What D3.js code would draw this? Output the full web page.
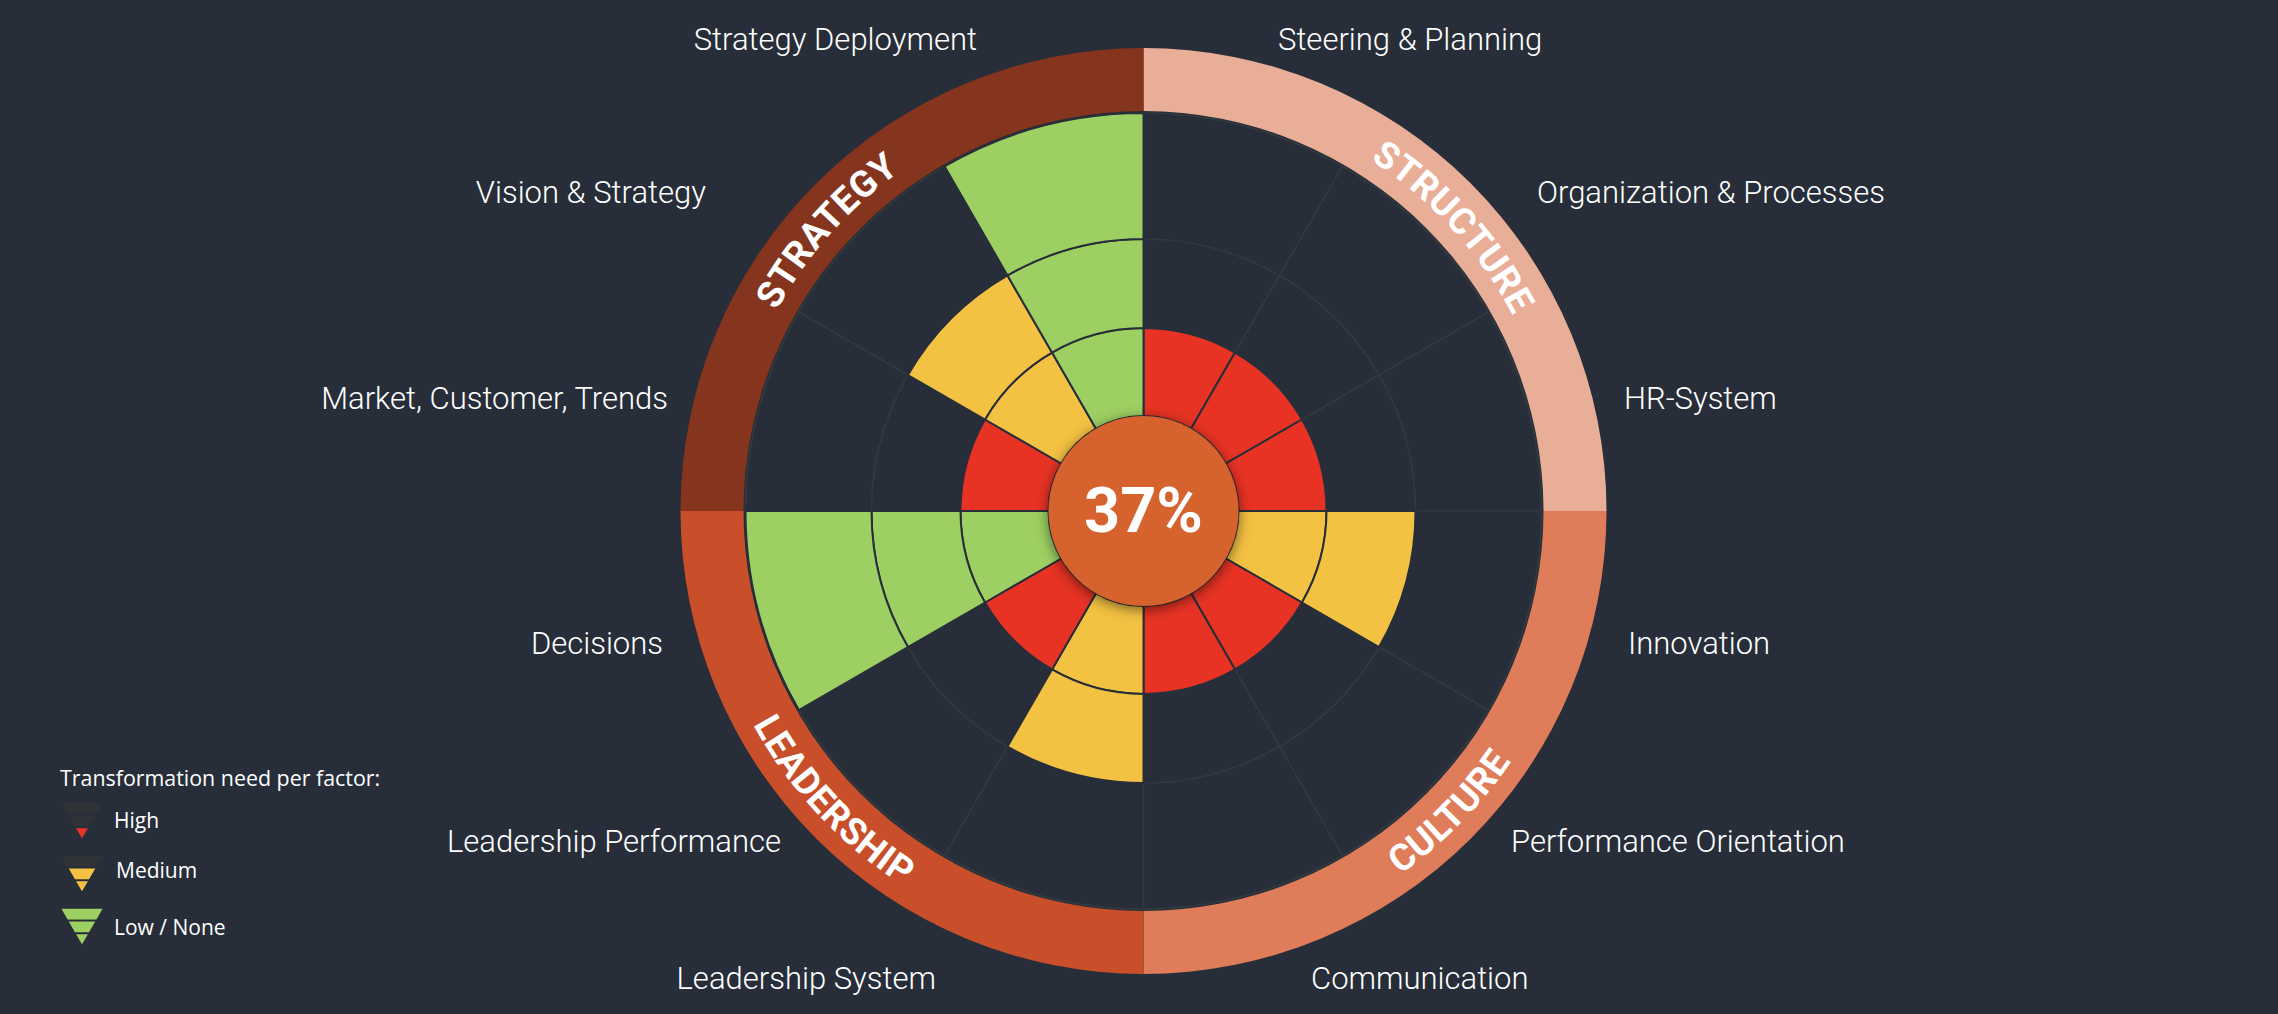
<!DOCTYPE html>
<html>
<head>
<meta charset="utf-8">
<script src="https://cdn.jsdelivr.net/npm/d3@7"></script>
<style>
  html, body { margin: 0; padding: 0; background: #272e39; }
  svg { display: block; }
</style>
</head>
<body>
<svg id="chart" width="2278" height="1014"></svg>
<script>
// ---------------- DATA ----------------
const factors = [
  "Steering & Planning", "Organization & Processes", "HR-System",
  "Innovation", "Performance Orientation", "Communication",
  "Leadership System", "Leadership Performance", "Decisions",
  "Market, Customer, Trends", "Vision & Strategy", "Strategy Deployment"
];
// number of filled bands per factor: 1 = High need, 2 = Medium, 3 = Low / None
const filledBands = [1, 1, 1, 2, 1, 1, 2, 1, 3, 1, 2, 3];
const groups = ["STRUCTURE", "CULTURE", "LEADERSHIP", "STRATEGY"];
const factorGroup = [0, 0, 0, 1, 1, 1, 2, 2, 2, 3, 3, 3];
const overallScore = 37;
const legendTitle = "Transformation need per factor:";
const legendLabels = ["High", "Medium", "Low / None"];
const legendBands = [1, 2, 3];

// ---------------- LAYOUT / STYLE ----------------
const W = 2278, H = 1014;
const cx = 1143.5, cy = 511;
const bg = "#272e39";
const levelColor = d3.scaleOrdinal().domain([1, 2, 3]).range(["#e83324", "#f4c242", "#9ecf62"]);
const groupColor = d3.scaleOrdinal().domain(groups).range(["#e9ae97", "#df7c59", "#c84f2a", "#85341d"]);
const ringInner = 400, ringOuter = 463;
const r = d3.scaleLinear().domain([0, 1, 2, 3]).range([95, 183, 272, 398]);
const angle = d3.scaleBand().domain(factors).range([0, 2 * Math.PI]);
const groupAngle = d3.scaleBand().domain(groups).range([0, 2 * Math.PI]);
// small clockwise nudges (degrees) of the ring captions
const ringLabelShift = [2.5, -0.5, 2, -3.5];

// label anchor layout (x of anchor, baseline y) per row of the chart
const rowBaselines = [50, 203, 409, 654, 852, 989];
const rightStarts = [1278, 1537, 1624, 1628, 1511, 1311];
const leftEnds = [977, 706, 668, 663, 781, 936];

const svg = d3.select("#chart");
svg.append("rect").attr("width", W).attr("height", H).attr("fill", bg);

const defs = svg.append("defs");
const f = defs.append("filter").attr("id", "shadow")
  .attr("x", "-30%").attr("y", "-30%").attr("width", "160%").attr("height", "160%");
f.append("feDropShadow").attr("dx", 0).attr("dy", 3).attr("stdDeviation", 7)
  .attr("flood-color", "#000").attr("flood-opacity", 0.55);

const g = svg.append("g").attr("transform", `translate(${cx},${cy})`);

// ---------- group ring ----------
const ringArc = d3.arc().innerRadius(ringInner).outerRadius(ringOuter);
g.append("g").selectAll("path").data(groups).join("path")
  .attr("d", d => ringArc({startAngle: groupAngle(d), endAngle: groupAngle(d) + groupAngle.bandwidth()}))
  .attr("fill", d => groupColor(d));

// ---------- grid ----------
const grid = g.append("g").attr("stroke", "#323a3e").attr("stroke-width", 1.6).attr("fill", "none");
grid.selectAll("circle").data([1, 2, 3]).join("circle").attr("r", d => r(d));
grid.selectAll("line").data(factors).join("line")
  .attr("x1", d => r(0) * Math.sin(angle(d))).attr("y1", d => -r(0) * Math.cos(angle(d)))
  .attr("x2", d => r(3) * Math.sin(angle(d))).attr("y2", d => -r(3) * Math.cos(angle(d)));

// ---------- cells ----------
const cells = [];
factors.forEach((name, i) => {
  for (let k = 1; k <= filledBands[i]; k++) cells.push({name, k, level: filledBands[i]});
});
const cellArc = d3.arc()
  .innerRadius(d => r(d.k - 1)).outerRadius(d => r(d.k))
  .startAngle(d => angle(d.name)).endAngle(d => angle(d.name) + angle.bandwidth());
g.append("g").selectAll("path").data(cells).join("path")
  .attr("d", cellArc)
  .attr("fill", d => levelColor(d.level))
  .attr("stroke", bg).attr("stroke-width", 2).attr("stroke-linejoin", "round");

// ---------- centre ----------
g.append("circle").attr("r", r(0)).attr("fill", "#d6622d").attr("filter", "url(#shadow)");
g.append("text").attr("x", 0).attr("y", 21)
  .attr("text-anchor", "middle")
  .attr("font-family", "Roboto, sans-serif").attr("font-weight", 700)
  .attr("font-size", 63).attr("fill", "#ffffff")
  .text(overallScore + "%");

// ---------- ring labels ----------
const pt = (a, rad) => [rad * Math.sin(a), -rad * Math.cos(a)];
groups.forEach((name, i) => {
  const a0 = groupAngle(name), a1 = a0 + groupAngle.bandwidth();
  const mid = (a0 + a1) / 2;
  const top = Math.cos(mid) > 0;
  const spanDeg = groupAngle.bandwidth() * 180 / Math.PI;
  let d, offset;
  if (top) {
    const rad = 418;
    const p0 = pt(a0, rad), p1 = pt(a1, rad);
    d = `M${p0[0]},${p0[1]} A${rad},${rad} 0 0 1 ${p1[0]},${p1[1]}`;
    offset = 50 + ringLabelShift[i] / spanDeg * 100;
  } else {
    const rad = 445;
    const p0 = pt(a1, rad), p1 = pt(a0, rad);
    d = `M${p0[0]},${p0[1]} A${rad},${rad} 0 0 0 ${p1[0]},${p1[1]}`;
    offset = 50 - ringLabelShift[i] / spanDeg * 100;
  }
  defs.append("path").attr("id", "gp" + i).attr("d", d);
  g.append("text")
    .attr("font-family", "Roboto, sans-serif").attr("font-weight", 700)
    .attr("font-size", 37).attr("letter-spacing", 0.5).attr("fill", "#ffffff")
    .append("textPath").attr("href", "#gp" + i)
    .attr("startOffset", offset + "%").attr("text-anchor", "middle")
    .text(name);
});

// ---------- factor labels ----------
const labels = svg.append("g")
  .attr("font-family", "Roboto, sans-serif").attr("font-weight", 300)
  .attr("font-size", 31).attr("fill", "#ffffff");
factors.forEach((name, i) => {
  const a = angle(name) + angle.bandwidth() / 2;
  const right = Math.sin(a) > 0;
  const row = right ? i : factors.length - 1 - i;
  labels.append("text")
    .attr("x", right ? rightStarts[row] : leftEnds[row])
    .attr("y", rowBaselines[row])
    .attr("text-anchor", right ? "start" : "end")
    .text(name);
});

// ---------- legend ----------
const legend = svg.append("g").attr("font-family", "'Open Sans', sans-serif").attr("fill", "#ffffff");
legend.append("text").attr("x", 60).attr("y", 786).attr("font-size", 21.4).text(legendTitle);
const legY = d3.scalePoint().domain(legendLabels).range([802, 908]);
const legTextDy = [26, 23, 27];
const triW = 44, triH = 38;
legendLabels.forEach((lab, i) => {
  const y0 = legY(lab), x0 = 60;
  for (let b = 0; b < 3; b++) {
    const t0 = b / 3, t1 = (b + 1) / 3;
    const hw0 = triW / 2 * (1 - t0), hw1 = triW / 2 * (1 - t1);
    const yA = y0 + triH * t0, yB = y0 + triH * t1;
    const filled = (3 - b) <= legendBands[i];
    legend.append("path")
      .attr("d", `M${x0 + triW / 2 - hw0},${yA}L${x0 + triW / 2 + hw0},${yA}L${x0 + triW / 2 + hw1},${yB}L${x0 + triW / 2 - hw1},${yB}Z`)
      .attr("fill", filled ? levelColor(legendBands[i]) : "#2f3337")
      .attr("stroke", bg).attr("stroke-width", 1.6);
  }
  legend.append("text").attr("x", lab === "Medium" ? 116 : 114).attr("y", y0 + legTextDy[i])
    .attr("font-size", 21).text(lab);
});
</script>
</body>
</html>
